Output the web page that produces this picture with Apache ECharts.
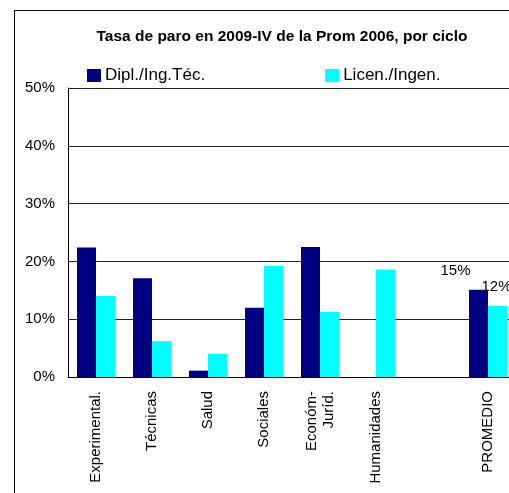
<!DOCTYPE html>
<html>
<head>
<meta charset="utf-8">
<script src="https://cdn.jsdelivr.net/npm/echarts@6/dist/echarts.min.js"></script>
<style>
  html, body { margin: 0; padding: 0; background: #fff; }
  #chart { width: 509px; height: 493px; }
</style>
</head>
<body>
<div id="chart"></div>
<script>
// categorias (la septima esta vacia en el original)
const categorias = ['Experimental.', 'Técnicas', 'Salud', 'Sociales', 'Económ-\nJuríd.', 'Humanidades', '', 'PROMEDIO'];
const diplomaturas = [22.4, 17.1, 1.1, 12.0, 22.5, 0, '-', 15.1];
const licenciaturas = [14.0, 6.2, 4.0, 19.2, 11.3, 18.6, '-', 12.3];
const ejeY = [0, 10, 20, 30, 40, 50];

const chart = echarts.init(document.getElementById('chart'), null, { renderer: 'canvas' });

// solo el promedio lleva etiqueta
function conEtiqueta(valores, offset) {
    return valores.map((v, i) => {
        if (i !== valores.length - 1) return v;
        return {
            value: v,
            label: {
                show: true,
                position: 'top',
                offset: offset,
                formatter: (p) => Math.round(p.value) + '%',
                color: '#000',
                fontSize: 15,
                fontFamily: 'Liberation Sans, Arial'
            }
        };
    });
}

const option = {
    animation: false,
    backgroundColor: '#fff',
    textStyle: { fontFamily: 'Liberation Sans, Arial', color: '#000' },
    title: {
        text: 'Tasa de paro en 2009-IV de la Prom 2006, por ciclo',
        left: 277,
        top: 24,
        textAlign: 'center',
        textStyle: { fontSize: 15.5, fontWeight: 'bold', color: '#000', fontFamily: 'Liberation Sans, Arial' }
    },
    legend: {
        left: 82,
        top: 62,
        itemWidth: 14,
        itemHeight: 13,
        itemGap: 120,
        icon: 'rect',
        textStyle: { fontSize: 17, color: '#000', padding: [0, 0, 0, -1] },
        data: ['Dipl./Ing.Téc.', 'Licen./Ingen.']
    },
    graphic: [{
        type: 'rect',
        shape: { x: 14.5, y: 10.5, width: 520, height: 500 },
        style: { fill: 'none', stroke: '#000', lineWidth: 1 },
        silent: true,
        z: -1
    }],
    grid: { left: 68, top: 88, width: 448, height: 289, containLabel: false, outerBoundsMode: 'none' },
    xAxis: {
        type: 'category',
        data: categorias,
        axisLine: { lineStyle: { color: '#000' } },
        axisTick: { show: false },
        axisLabel: {
            interval: 0,
            rotate: 90,
            margin: 14,
            fontSize: 15,
            color: '#000',
            lineHeight: 17
        }
    },
    yAxis: {
        type: 'value',
        min: ejeY[0],
        max: ejeY[ejeY.length - 1],
        interval: 10,
        axisLine: { show: true, lineStyle: { color: '#000' } },
        axisTick: { show: false },
        splitLine: { lineStyle: { color: '#222' } },
        axisLabel: { fontSize: 15, color: '#000', margin: 13, formatter: '{value}%' }
    },
    series: [
        {
            name: 'Dipl./Ing.Téc.',
            type: 'bar',
            barWidth: 19,
            barGap: '0%',
            itemStyle: { color: '#000080' },
            data: conEtiqueta(diplomaturas, [-23, -6])
        },
        {
            name: 'Licen./Ingen.',
            type: 'bar',
            barWidth: 19,
            itemStyle: { color: '#00FFFF' },
            data: conEtiqueta(licenciaturas, [-1, -7])
        }
    ]
};

chart.setOption(option);
</script>
</body>
</html>
